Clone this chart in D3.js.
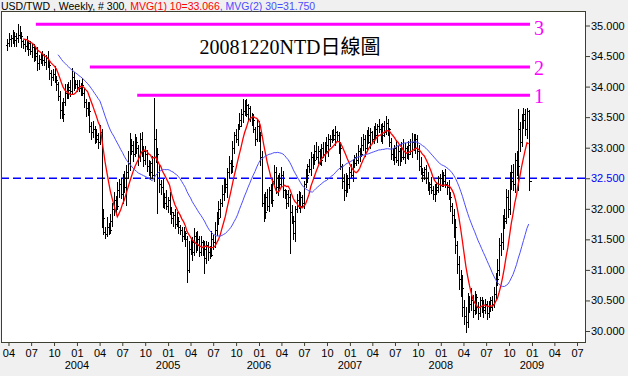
<!DOCTYPE html>
<html>
<head>
<meta charset="utf-8">
<script src="https://cdn.jsdelivr.net/npm/d3@7"></script>
<style>
  body { margin: 0; background: #f0f0f0; }
  svg { display: block; font-family: "Liberation Sans", Arial, sans-serif; }
</style>
</head>
<body>
<div id="chart"></div>
<script>
// Weekly USD/TWD bars, oldest first. First bar = week ending 2003-03-28, last = 2008-12-19
const firstWeek = new Date(2003, 2, 28);

const opens = [
  34.68, 34.72, 34.78, 34.80, 34.76, 34.82, 34.79, 34.85, 34.83, 34.74,
  34.70, 34.66, 34.72, 34.62, 34.58, 34.64, 34.55, 34.50, 34.38, 34.45,
  34.52, 34.43, 34.40, 34.47, 34.36, 34.22, 34.16, 34.20, 34.10, 34.05,
  33.85, 33.62, 33.55, 33.75, 33.90, 33.95, 34.00, 33.92, 34.15, 34.05,
  34.05, 34.00, 33.98, 34.02, 33.90, 33.75, 33.65, 33.60, 33.35, 33.25,
  33.30, 33.15, 33.20, 33.10, 33.25, 31.85, 31.62, 31.58, 31.70, 31.65,
  31.80, 32.00, 32.15, 32.05, 32.30, 32.40, 32.25, 32.50, 32.35, 32.60,
  32.75, 32.95, 33.05, 32.90, 33.10, 33.00, 32.85, 33.15, 32.95, 32.80,
  32.90, 32.70, 32.60, 32.75, 32.55, 33.15, 32.90, 32.60, 32.40, 32.35,
  32.10, 32.20, 32.05, 32.15, 31.95, 31.85, 31.90, 31.75, 31.80, 31.70,
  31.65, 31.55, 31.60, 31.50, 31.00, 31.35, 31.45, 31.30, 31.55, 31.40,
  31.50, 31.30, 31.45, 31.35, 31.20, 31.40, 31.30, 31.25, 31.50, 31.45,
  31.65, 31.85, 32.00, 32.10, 32.25, 32.40, 32.35, 32.60, 32.75, 32.70,
  33.00, 33.20, 33.15, 33.35, 33.45, 33.55, 33.60, 33.70, 33.55, 33.65,
  33.50, 33.45, 33.30, 33.15, 33.35, 33.20, 32.85, 32.10, 31.95, 32.20,
  32.05, 32.30, 32.15, 32.45, 32.60, 32.35, 32.50, 32.40, 32.55, 32.30,
  32.25, 32.10, 32.20, 31.95, 31.80, 31.60, 32.00, 32.15, 32.05, 32.20,
  32.10, 32.40, 32.55, 32.70, 32.65, 32.85, 32.80, 32.95, 32.85, 32.95,
  32.80, 33.00, 32.90, 33.05, 32.95, 33.15, 33.15, 33.20, 33.15, 33.25,
  33.20, 33.00, 32.70, 32.45, 32.30, 32.50, 32.40, 32.60, 32.55, 32.75,
  32.85, 32.80, 32.95, 32.90, 33.05, 33.15, 33.00, 33.20, 33.10, 33.25,
  33.15, 33.30, 33.20, 33.35, 33.30, 33.20, 33.35, 33.25, 33.40, 33.30,
  33.10, 32.90, 32.85, 33.00, 32.80, 32.95, 32.85, 33.00, 32.85, 33.00,
  32.90, 33.05, 32.95, 33.10, 33.00, 33.15, 32.95, 32.70, 32.60, 32.55,
  32.65, 32.50, 32.35, 32.40, 32.30, 32.25, 32.35, 32.30, 32.40, 32.50,
  32.45, 32.55, 32.40, 32.35, 32.20, 32.05, 31.90, 31.70, 31.40, 31.10,
  30.85, 30.70, 30.40, 30.25, 30.15, 30.45, 30.45, 30.50, 30.35, 30.55,
  30.40, 30.30, 30.50, 30.40, 30.35, 30.45, 30.30, 30.40, 30.50, 30.45,
  30.60, 30.85, 31.00, 31.40, 31.45, 31.80, 31.85, 32.20, 32.00, 32.45,
  32.60, 32.40, 32.80, 32.70, 33.30, 33.10, 33.45, 33.55, 33.30, 33.60
];

const highs = [
  34.78, 34.88, 34.84, 34.92, 34.90, 34.87, 35.03, 34.99, 34.90, 34.77,
  34.76, 34.82, 34.76, 34.74, 34.72, 34.69, 34.64, 34.64, 34.52, 34.55,
  34.58, 34.53, 34.51, 34.59, 34.44, 34.27, 34.29, 34.34, 34.17, 34.08,
  33.93, 33.74, 33.81, 34.04, 34.05, 34.07, 34.11, 34.30, 34.24, 34.10,
  34.11, 34.10, 34.06, 34.14, 33.98, 33.80, 33.74, 33.74, 33.42, 33.43,
  33.36, 33.30, 33.24, 33.37, 33.30, 32.00, 31.71, 31.86, 31.77, 31.92,
  32.10, 32.27, 32.21, 32.44, 32.48, 32.50, 32.57, 32.62, 32.72, 32.95,
  33.24, 33.15, 33.11, 33.22, 33.18, 33.05, 33.24, 33.26, 33.02, 33.03,
  32.96, 32.80, 32.79, 32.87, 33.82, 33.30, 32.99, 32.74, 32.47, 32.48,
  32.26, 32.30, 32.19, 32.27, 32.03, 31.95, 31.99, 31.94, 31.87, 31.73,
  31.71, 31.70, 31.64, 31.55, 31.47, 31.50, 31.54, 31.69, 31.62, 31.63,
  31.56, 31.55, 31.49, 31.47, 31.48, 31.45, 31.39, 31.64, 31.57, 31.78,
  31.95, 32.12, 32.16, 32.39, 32.48, 32.50, 32.67, 32.87, 32.80, 33.11,
  33.26, 33.30, 33.39, 33.57, 33.63, 33.80, 33.78, 33.79, 33.72, 33.68,
  33.56, 33.55, 33.34, 33.47, 33.43, 33.25, 32.94, 32.24, 32.27, 32.33,
  32.36, 32.40, 32.49, 32.72, 32.68, 32.55, 32.59, 32.69, 32.62, 32.33,
  32.31, 32.30, 32.24, 32.07, 31.88, 32.05, 32.24, 32.29, 32.27, 32.23,
  32.46, 32.65, 32.74, 32.82, 32.93, 32.90, 33.04, 33.09, 33.02, 32.98,
  33.06, 33.10, 33.09, 33.17, 33.23, 33.20, 33.29, 33.30, 33.35, 33.28,
  33.26, 33.10, 32.74, 32.57, 32.58, 32.55, 32.69, 32.74, 32.82, 32.88,
  32.91, 33.05, 32.99, 33.17, 33.23, 33.20, 33.29, 33.34, 33.32, 33.28,
  33.36, 33.40, 33.39, 33.47, 33.38, 33.40, 33.44, 33.52, 33.47, 33.33,
  33.16, 33.00, 33.04, 33.12, 33.03, 33.00, 33.09, 33.14, 33.07, 33.03,
  33.11, 33.15, 33.24, 33.22, 33.23, 33.20, 33.04, 32.84, 32.67, 32.68,
  32.71, 32.60, 32.44, 32.52, 32.38, 32.40, 32.44, 32.54, 32.57, 32.63,
  32.61, 32.65, 32.44, 32.47, 32.28, 32.10, 31.99, 31.84, 31.47, 31.23,
  31.00, 30.92, 30.50, 30.39, 30.63, 30.57, 30.70, 30.59, 30.66, 30.61,
  30.48, 30.56, 30.55, 30.50, 30.52, 30.49, 30.49, 30.56, 30.58, 30.72,
  30.95, 31.18, 31.52, 31.60, 31.90, 31.99, 32.32, 32.30, 32.61, 32.72,
  32.74, 32.92, 32.95, 33.63, 33.42, 33.55, 33.65, 33.63, 33.65, 33.62
];

const lows = [
  34.60, 34.67, 34.67, 34.72, 34.67, 34.66, 34.73, 34.80, 34.64, 34.63,
  34.58, 34.61, 34.51, 34.54, 34.49, 34.42, 34.44, 34.27, 34.28, 34.38,
  34.35, 34.35, 34.29, 34.32, 34.13, 34.03, 34.10, 34.07, 33.95, 33.78,
  33.48, 33.49, 33.43, 33.70, 33.81, 33.81, 33.84, 33.88, 33.94, 33.98,
  33.92, 33.93, 33.87, 33.86, 33.66, 33.52, 33.54, 33.25, 33.15, 33.18,
  33.07, 33.10, 32.99, 33.06, 31.70, 31.58, 31.52, 31.55, 31.58, 31.60,
  31.72, 31.90, 31.92, 31.99, 32.19, 32.18, 32.10, 32.27, 32.06, 32.51,
  32.63, 32.90, 32.79, 32.86, 32.91, 32.72, 32.79, 32.87, 32.70, 32.73,
  32.62, 32.55, 32.49, 32.51, 32.45, 32.77, 31.93, 32.28, 32.25, 32.03,
  32.02, 32.00, 31.94, 31.91, 31.76, 31.72, 31.69, 31.72, 31.60, 31.58,
  31.47, 31.50, 31.39, 30.80, 30.96, 31.26, 31.17, 31.24, 31.30, 31.33,
  31.22, 31.25, 31.24, 30.95, 31.11, 31.17, 31.19, 31.22, 31.35, 31.38,
  31.57, 31.75, 31.87, 32.04, 32.14, 32.28, 32.20, 32.52, 32.58, 32.61,
  32.92, 33.10, 33.04, 33.31, 33.36, 33.42, 33.54, 33.52, 33.45, 33.43,
  33.37, 33.25, 33.04, 33.11, 33.11, 32.72, 32.04, 31.80, 31.85, 31.98,
  31.97, 32.10, 32.04, 32.41, 32.26, 32.22, 32.34, 32.37, 32.20, 32.18,
  32.02, 32.05, 31.27, 31.76, 31.51, 31.47, 31.94, 32.02, 31.95, 32.03,
  32.02, 32.35, 32.44, 32.61, 32.56, 32.67, 32.74, 32.82, 32.75, 32.73,
  32.72, 32.85, 32.79, 32.91, 32.86, 33.02, 33.09, 33.12, 33.05, 33.13,
  32.92, 32.65, 32.34, 32.15, 32.21, 32.27, 32.34, 32.52, 32.45, 32.68,
  32.72, 32.75, 32.79, 32.86, 32.96, 32.87, 32.94, 33.07, 33.00, 33.08,
  33.07, 33.15, 33.09, 33.26, 33.11, 33.07, 33.19, 33.22, 33.20, 33.03,
  32.82, 32.80, 32.74, 32.76, 32.71, 32.72, 32.79, 32.82, 32.75, 32.83,
  32.82, 32.90, 32.84, 32.96, 32.91, 32.82, 32.64, 32.57, 32.45, 32.48,
  32.42, 32.30, 32.24, 32.26, 32.16, 32.12, 32.24, 32.27, 32.30, 32.38,
  32.37, 32.35, 32.24, 32.16, 31.96, 31.77, 31.54, 31.28, 30.95, 30.68,
  30.58, 30.25, 30.12, 29.99, 30.07, 30.31, 30.35, 30.23, 30.28, 30.29,
  30.20, 30.24, 30.31, 30.23, 30.30, 30.20, 30.23, 30.32, 30.34, 30.39,
  30.52, 30.75, 30.92, 31.25, 31.35, 31.68, 31.77, 31.86, 31.91, 32.33,
  32.30, 32.28, 32.56, 32.30, 32.95, 33.02, 33.33, 33.20, 33.16, 32.30
];

const closes = [
  34.72, 34.78, 34.80, 34.76, 34.82, 34.79, 34.85, 34.83, 34.74, 34.70,
  34.66, 34.72, 34.62, 34.58, 34.64, 34.55, 34.50, 34.38, 34.45, 34.52,
  34.43, 34.40, 34.47, 34.36, 34.22, 34.16, 34.20, 34.10, 34.05, 33.85,
  33.62, 33.55, 33.75, 33.90, 33.95, 34.00, 33.92, 34.15, 34.05, 34.05,
  34.00, 33.98, 34.02, 33.90, 33.75, 33.65, 33.60, 33.35, 33.25, 33.30,
  33.15, 33.20, 33.10, 33.25, 31.85, 31.62, 31.58, 31.70, 31.65, 31.80,
  32.00, 32.15, 32.05, 32.30, 32.40, 32.25, 32.50, 32.35, 32.60, 32.75,
  32.95, 33.05, 32.90, 33.10, 33.00, 32.85, 33.15, 32.95, 32.80, 32.90,
  32.70, 32.60, 32.75, 32.55, 33.15, 32.90, 32.60, 32.40, 32.35, 32.10,
  32.20, 32.05, 32.15, 31.95, 31.85, 31.90, 31.75, 31.80, 31.70, 31.65,
  31.55, 31.60, 31.50, 31.00, 31.35, 31.45, 31.30, 31.55, 31.40, 31.50,
  31.30, 31.45, 31.35, 31.20, 31.40, 31.30, 31.25, 31.50, 31.45, 31.65,
  31.85, 32.00, 32.10, 32.25, 32.40, 32.35, 32.60, 32.75, 32.70, 33.00,
  33.20, 33.15, 33.35, 33.45, 33.55, 33.60, 33.70, 33.55, 33.65, 33.50,
  33.45, 33.30, 33.15, 33.35, 33.20, 32.85, 32.10, 31.95, 32.20, 32.05,
  32.30, 32.15, 32.45, 32.60, 32.35, 32.50, 32.40, 32.55, 32.30, 32.25,
  32.10, 32.20, 31.95, 31.80, 31.60, 32.00, 32.15, 32.05, 32.20, 32.10,
  32.40, 32.55, 32.70, 32.65, 32.85, 32.80, 32.95, 32.85, 32.95, 32.80,
  33.00, 32.90, 33.05, 32.95, 33.15, 33.15, 33.20, 33.15, 33.25, 33.20,
  33.00, 32.70, 32.45, 32.30, 32.50, 32.40, 32.60, 32.55, 32.75, 32.85,
  32.80, 32.95, 32.90, 33.05, 33.15, 33.00, 33.20, 33.10, 33.25, 33.15,
  33.30, 33.20, 33.35, 33.30, 33.20, 33.35, 33.25, 33.40, 33.30, 33.10,
  32.90, 32.85, 33.00, 32.80, 32.95, 32.85, 33.00, 32.85, 33.00, 32.90,
  33.05, 32.95, 33.10, 33.00, 33.15, 32.95, 32.70, 32.60, 32.55, 32.65,
  32.50, 32.35, 32.40, 32.30, 32.25, 32.35, 32.30, 32.40, 32.50, 32.45,
  32.55, 32.40, 32.35, 32.20, 32.05, 31.90, 31.70, 31.40, 31.10, 30.85,
  30.70, 30.40, 30.25, 30.15, 30.45, 30.45, 30.50, 30.35, 30.55, 30.40,
  30.30, 30.50, 30.40, 30.35, 30.45, 30.30, 30.40, 30.50, 30.45, 30.60,
  30.85, 31.00, 31.40, 31.45, 31.80, 31.85, 32.20, 32.00, 32.45, 32.60,
  32.40, 32.80, 32.70, 33.30, 33.10, 33.45, 33.55, 33.30, 33.60, 32.45
];

// moving average periods shown in the header
const maPeriods = [10, 30];
const maColors = ["#ff0000", "#4d4dff"];

// hand drawn resistance lines (label, level, start date)
const levelLabels = ["1", "2", "3"];
const levelValues = [33.86, 34.32, 35.02];
const levelStarts = [new Date(2004, 7, 30), new Date(2004, 1, 22), new Date(2003, 6, 20)];
const levelEnd = new Date(2008, 11, 24);

const refLevel = 32.5;
const yTicks = [30, 30.5, 31, 31.5, 32, 32.5, 33, 33.5, 34, 34.5, 35];
const yearLabels = [2004, 2005, 2006, 2007, 2008, 2009];

const title = "20081220NTD日線圖";
const headerParts = [
  { text: "USD/TWD , Weekly, # 300", color: "#000" },
  { text: ", MVG(1) 10=33.066", color: "#ff0000" },
  { text: ", MVG(2) 30=31.750", color: "#4d4dff" }
];

const width = 628, height = 376;
const frameColor = "#3f3f2f";

const dates = closes.map((d, i) => d3.timeDay.offset(firstWeek, i * 7));

const x = d3.scaleTime()
  .domain([new Date(2003, 2, 2), new Date(2009, 7, 2)])
  .range([1, 585]);
const y = d3.scaleLinear().domain([30, 35]).range([331, 25.5]);

const svg = d3.select("#chart").append("svg")
  .attr("width", width)
  .attr("height", height);

svg.append("rect").attr("width", width).attr("height", height).attr("fill", "#f0f0f0");

// plot area
svg.append("rect")
  .attr("x", 1.5).attr("y", 11.5)
  .attr("width", 584).attr("height", 331)
  .attr("fill", "#fff")
  .attr("stroke", frameColor);

svg.append("clipPath").attr("id", "clip")
  .append("rect").attr("x", 2).attr("y", 12).attr("width", 583).attr("height", 330);

// header
const header = svg.append("text")
  .attr("x", 1).attr("y", 10)
  .style("font-size", "10.5px");
headerParts.forEach(p => header.append("tspan").attr("fill", p.color).text(p.text));

const plot = svg.append("g").attr("clip-path", "url(#clip)");

// title
plot.append("text")
  .attr("x", 290).attr("y", 54)
  .attr("text-anchor", "middle")
  .style("font-family", "'Liberation Serif', 'Noto Sans CJK TC', serif")
  .style("font-size", "20px")
  .text(title);

// reference dashed line
plot.append("line")
  .attr("x1", 1).attr("x2", 585)
  .attr("y1", y(refLevel)).attr("y2", y(refLevel))
  .attr("stroke", "#0000ff")
  .attr("stroke-width", 1.5)
  .attr("stroke-dasharray", "8,4");

// OHLC bars
const px = i => Math.round(x(dates[i])) + 0.5;
const py = v => Math.round(y(v)) + 0.5;
plot.append("path")
  .attr("fill", "none")
  .attr("stroke", "#000")
  .attr("stroke-width", 1)
  .attr("shape-rendering", "crispEdges")
  .attr("d", closes.map((c, i) => {
    const xi = px(i);
    return `M${xi},${Math.round(y(highs[i]))}V${Math.round(y(lows[i])) + 1}` +
      `M${xi - 2},${py(opens[i])}H${xi}` +
      `M${xi},${py(c)}H${xi + 2}`;
  }).join(""));

// moving averages
maPeriods.forEach((n, k) => {
  const ma = closes.map((c, i) => i < n - 1 ? null : d3.mean(closes.slice(i - n + 1, i + 1)));
  const line = d3.line()
    .defined(d => d !== null)
    .x((d, i) => x(dates[i]))
    .y(d => y(d));
  plot.append("path")
    .datum(ma)
    .attr("fill", "none")
    .attr("stroke", maColors[k])
    .attr("stroke-width", k === 0 ? 1.3 : 1)
    .attr("d", line);
});

// resistance lines and their labels
levelValues.forEach((v, k) => {
  plot.append("line")
    .attr("x1", x(levelStarts[k])).attr("x2", x(levelEnd))
    .attr("y1", y(v)).attr("y2", y(v))
    .attr("stroke", "#ff00ff")
    .attr("stroke-width", 3);
  plot.append("text")
    .attr("x", x(levelEnd) + 4)
    .attr("y", y(v) + (k === 2 ? 11 : 8))
    .attr("fill", "#ff00ff")
    .style("font-family", "'Liberation Serif', serif")
    .style("font-size", "20px")
    .text(levelLabels[k]);
});

// y axis on the right
const yAxis = svg.append("g")
  .attr("transform", "translate(585,0)")
  .call(d3.axisRight(y).tickValues(yTicks).tickSize(5).tickPadding(1).tickFormat(d3.format(".3f")));
yAxis.select(".domain").remove();
yAxis.selectAll("line").attr("stroke", frameColor);
yAxis.selectAll("text")
  .style("font-size", "11px")
  .style("font-family", "'Liberation Sans', Arial, sans-serif")
  .attr("fill", d => d === refLevel ? "#0000ff" : "#000");

// x axis: quarter months
const xAxis = svg.append("g")
  .attr("transform", "translate(0,343)")
  .call(d3.axisBottom(x).ticks(d3.timeMonth.every(3)).tickSize(3).tickPadding(3).tickFormat(d3.timeFormat("%m")));
xAxis.select(".domain").remove();
xAxis.selectAll("line").attr("stroke", frameColor);
xAxis.selectAll("text")
  .style("font-size", "11px")
  .style("font-family", "'Liberation Sans', Arial, sans-serif")
  .attr("fill", "#000");

svg.append("g").selectAll("text")
  .data(yearLabels)
  .enter().append("text")
  .attr("x", d => x(new Date(d, 0, 1)))
  .attr("y", 369)
  .attr("text-anchor", "middle")
  .style("font-size", "11px")
  .text(d => d);
</script>
</body>
</html>
